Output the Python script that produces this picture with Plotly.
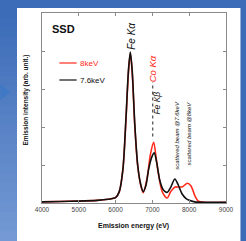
import plotly.graph_objects as go

# ---- data ----
energy_76 = [4000, 4500, 5000, 5500, 5800, 6000, 6100, 6200, 6280, 6350, 6400, 6450, 6520, 6600, 6680,
             6750, 6820, 6900, 6980, 7050, 7120, 7200, 7300, 7400, 7500, 7610, 7700, 7800, 7900, 8000,
             8150, 8500, 9000]
intensity_76 = [0.03, 0.04, 0.05, 0.07, 0.10, 0.14, 0.30, 0.90, 2.20, 3.50, 3.97, 3.50, 2.10, 1.00, 0.50,
                0.30, 0.45, 0.90, 1.20, 1.32, 1.05, 0.60, 0.34, 0.28, 0.42, 0.63, 0.48, 0.25, 0.13, 0.07,
                0.03, 0.02, 0.02]

energy_8 = [4000, 4500, 5000, 5500, 5800, 6000, 6100, 6200, 6280, 6350, 6400, 6450, 6520, 6600, 6680,
            6750, 6850, 6950, 7035, 7100, 7150, 7270, 7400, 7500, 7620, 7700, 7820, 7950, 8050, 8150,
            8250, 8400, 9000]
intensity_8 = [0.03, 0.04, 0.05, 0.07, 0.10, 0.14, 0.30, 0.90, 2.15, 3.45, 3.93, 3.45, 2.05, 0.98, 0.48,
               0.27, 0.62, 1.30, 1.60, 1.20, 0.85, 0.29, 0.13, 0.30, 0.42, 0.42, 0.43, 0.52, 0.45, 0.20,
               0.05, 0.02, 0.02]

x_ticks = [4000, 5000, 6000, 7000, 8000, 9000]
y_ticks = [0, 1, 2, 3, 4, 5]

W, H = 246, 241
L, R, T, B = 42, 13, 13, 38
PW, PH = W - L - R, H - T - B

def px(X):
    return (X - L) / PW

def py(Y):
    return (H - B - Y) / PH

fig = go.Figure()
fig.add_trace(go.Scatter(x=energy_8, y=intensity_8, mode="lines", name="8keV",
                         line=dict(color="#ff2a1a", width=1.6, shape="spline", smoothing=0.8)))
fig.add_trace(go.Scatter(x=energy_76, y=intensity_76, mode="lines", name="7.6keV",
                         line=dict(color="#111111", width=1.6, shape="spline", smoothing=0.8)))

shapes = []
# white panel
shapes.append(dict(type="rect", xref="paper", yref="paper", x0=px(16), x1=px(W + 2), y0=py(H + 2), y1=py(8),
                   fillcolor="white", line=dict(width=0), layer="below"))
# left gradient strip
top_c = (0x3c, 0x6c, 0xb8)
bot_c = (0x74, 0x99, 0xd4)
n = 24
for i in range(n):
    t = i / (n - 1)
    c = tuple(int(top_c[k] + (bot_c[k] - top_c[k]) * t) for k in range(3))
    y0 = 8 + (H - 8) * i / n
    y1 = 8 + (H - 8) * (i + 1) / n + 1
    shapes.append(dict(type="rect", xref="paper", yref="paper", x0=px(-2), x1=px(16),
                       y0=py(y1), y1=py(y0), fillcolor="rgb(%d,%d,%d)" % c, line=dict(width=0), layer="below"))
# arrow
shapes.append(dict(type="path", xref="paper", yref="paper",
                   path="M %f %f L %f %f L %f %f Z" % (px(-1), py(84), px(9), py(92), px(-1), py(100)),
                   fillcolor="#3f78c4", line=dict(width=0), layer="below"))
# legend samples
shapes.append(dict(type="line", xref="paper", yref="paper", x0=px(60), x1=px(78), y0=py(63), y1=py(63),
                   line=dict(color="#ff2a1a", width=1.2)))
shapes.append(dict(type="line", xref="paper", yref="paper", x0=px(60), x1=px(78), y0=py(80), y1=py(80),
                   line=dict(color="#111111", width=1.2)))
# dotted marker line above Co K-alpha peak
shapes.append(dict(type="line", xref="x", yref="y", x0=7010, x1=7010, y0=1.75, y1=3.18,
                   line=dict(color="#222222", width=1, dash="dot")))

font = "Liberation Sans, Arial, sans-serif"
ann = []
def label(text, x, y, size, color, **kw):
    d = dict(text=text, x=x, y=y, textangle=-90, showarrow=False, xanchor="center", yanchor="middle",
             font=dict(size=size, color=color, family=font))
    d.update(kw)
    ann.append(d)

ann.append(dict(text="<b>SSD</b>", xref="paper", yref="paper", x=px(50), y=py(29), xanchor="left",
                yanchor="middle", showarrow=False, font=dict(size=11, color="#111", family=font)))
ann.append(dict(text="8keV", xref="paper", yref="paper", x=px(79), y=py(63), xanchor="left",
                yanchor="middle", showarrow=False, font=dict(size=8, color="#ff2a1a", family=font)))
ann.append(dict(text="7.6keV", xref="paper", yref="paper", x=px(79), y=py(80), xanchor="left",
                yanchor="middle", showarrow=False, font=dict(size=8, color="#111", family=font)))
label("<i>Fe Kα</i>", 6435, 4.39, 10, "#111")
label("<i>Co Kα</i>", 7010, 3.54, 9.5, "#ff2a1a")
label("<i>Fe Kβ</i>", 7140, 2.63, 8.5, "#111")
label("<i>scattered beam @7.6keV</i>", 7665, 1.79, 6, "#111")
label("<i>scattered beam @8keV</i>", 8005, 1.84, 6, "#111")
label("<b>Emission intensity (arb. unit.)</b>", px(25), py(100), 6.5, "#111", xref="paper", yref="paper")
ann.append(dict(text="<b>Emission energy (eV)</b>", xref="paper", yref="paper", x=px(137), y=py(232),
                showarrow=False, font=dict(size=7, color="#111", family=font)))

axis_common = dict(showline=True, mirror="ticks", linecolor="#8a8a8a", linewidth=1, ticks="inside",
                   ticklen=3, tickcolor="#8a8a8a", tickwidth=1, showgrid=False, zeroline=False)

fig.update_layout(
    width=W, height=H, margin=dict(l=L, r=R, t=T, b=B),
    paper_bgcolor="#3c6cb8", plot_bgcolor="white", showlegend=False,
    shapes=shapes, annotations=ann,
    xaxis=dict(range=[4000, 9000], tickvals=x_ticks, ticktext=[str(v) for v in x_ticks],
               tickfont=dict(size=6.5, color="#444", family=font), **axis_common),
    yaxis=dict(range=[0, 5], tickvals=y_ticks, showticklabels=False, **axis_common),
)

fig.write_html("out.html", config={"displayModeBar": False},
               post_script="document.body.style.margin='0';document.body.style.padding='0';")
